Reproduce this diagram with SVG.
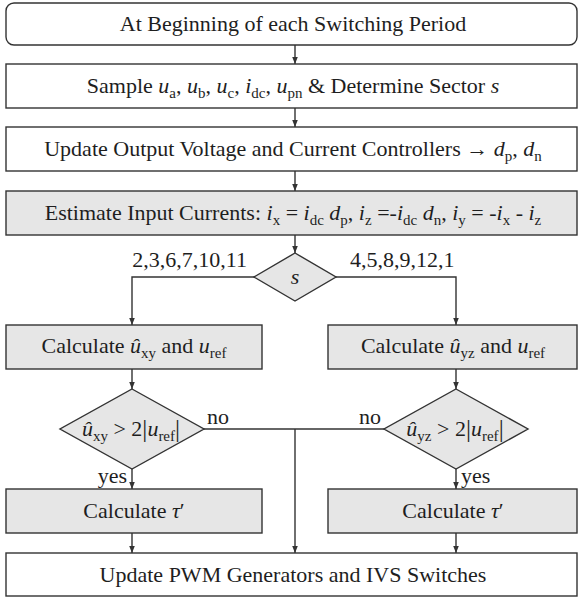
<svg xmlns="http://www.w3.org/2000/svg" width="579" height="598" viewBox="0 0 579 598">
<defs>
<marker id="ah" viewBox="0 0 10 10" refX="10" refY="5" markerWidth="7" markerHeight="7" markerUnits="userSpaceOnUse" orient="auto">
<path d="M0,1 L10,5 L0,9 z" fill="#333"/>
</marker>
<style>
.b{fill:#fff;stroke:#333;stroke-width:1.4}
.g{fill:#e6e6e6;stroke:#333;stroke-width:1.4}
.c{fill:none;stroke:#333;stroke-width:1.4}
.a{marker-end:url(#ah)}
text{font-family:"Liberation Serif","Times New Roman",serif;font-size:22px;fill:#1e1e1e}
.m{text-anchor:middle}
.i{font-style:italic}
.s{font-size:15px;font-style:normal}
.bar{font-size:25px}
</style>
</defs>
<g id="connectors">
<line class="c a" x1="295" y1="45" x2="295" y2="64"/>
<line class="c a" x1="295" y1="108" x2="295" y2="127"/>
<line class="c a" x1="295" y1="171" x2="295" y2="191"/>
<line class="c a" x1="295" y1="235" x2="295" y2="253"/>
<polyline class="c a" points="254,277 132,277 132,325"/>
<polyline class="c a" points="336,277 456,277 456,325"/>
<line class="c a" x1="132" y1="369" x2="132" y2="389"/>
<line class="c a" x1="456" y1="369" x2="456" y2="389"/>
<line class="c" x1="204" y1="429" x2="384" y2="429"/>
<line class="c a" x1="295" y1="429" x2="295" y2="553"/>
<line class="c a" x1="132" y1="469" x2="132" y2="489"/>
<line class="c a" x1="456" y1="469" x2="456" y2="489"/>
<line class="c a" x1="132" y1="533" x2="132" y2="553"/>
<line class="c a" x1="456" y1="533" x2="456" y2="553"/>
<text x="247" y="267" text-anchor="end">2,3,6,7,10,11</text>
<text x="350" y="267">4,5,8,9,12,1</text>
<text x="207" y="424">no</text>
<text x="381" y="424" text-anchor="end">no</text>
<text x="127" y="483" text-anchor="end">yes</text>
<text x="461" y="483">yes</text>
</g>
<g id="start">
<rect class="b" x="6" y="3" width="571" height="42" rx="8"/>
<text class="m" x="293" y="31">At Beginning of each Switching Period</text>
</g>
<g id="sample">
<rect class="b" x="6" y="64" width="571" height="44"/>
<text class="m" x="293" y="93">Sample <tspan class="i">u</tspan><tspan class="s" dy="5">a</tspan><tspan dy="-5">, </tspan><tspan class="i">u</tspan><tspan class="s" dy="5">b</tspan><tspan dy="-5">, </tspan><tspan class="i">u</tspan><tspan class="s" dy="5">c</tspan><tspan dy="-5">, </tspan><tspan class="i">i</tspan><tspan class="s" dy="5">dc</tspan><tspan dy="-5">, </tspan><tspan class="i">u</tspan><tspan class="s" dy="5">pn</tspan><tspan dy="-5"> &amp; Determine Sector </tspan><tspan class="i">s</tspan></text>
</g>
<g id="controllers">
<rect class="b" x="6" y="127" width="571" height="44"/>
<text class="m" x="293" y="156">Update Output Voltage and Current Controllers → <tspan class="i">d</tspan><tspan class="s" dy="5">p</tspan><tspan dy="-5">, </tspan><tspan class="i">d</tspan><tspan class="s" dy="5">n</tspan></text>
</g>
<g id="estimate">
<rect class="g" x="6" y="191" width="571" height="44"/>
<text class="m" x="293" y="220">Estimate Input Currents: <tspan class="i">i</tspan><tspan class="s" dy="5">x</tspan><tspan dy="-5"> = </tspan><tspan class="i">i</tspan><tspan class="s" dy="5">dc</tspan><tspan dy="-5"> </tspan><tspan class="i">d</tspan><tspan class="s" dy="5">p</tspan><tspan dy="-5">, </tspan><tspan class="i">i</tspan><tspan class="s" dy="5">z</tspan><tspan dy="-5"> =-</tspan><tspan class="i">i</tspan><tspan class="s" dy="5">dc</tspan><tspan dy="-5"> </tspan><tspan class="i">d</tspan><tspan class="s" dy="5">n</tspan><tspan dy="-5">, </tspan><tspan class="i">i</tspan><tspan class="s" dy="5">y</tspan><tspan dy="-5"> = -</tspan><tspan class="i">i</tspan><tspan class="s" dy="5">x</tspan><tspan dy="-5"> - </tspan><tspan class="i">i</tspan><tspan class="s" dy="5">z</tspan></text>
</g>
<g id="sector">
<polygon class="g" points="295,253 336,277 295,301 254,277"/>
<text class="m i" x="295" y="284">s</text>
</g>
<g id="calc-xy">
<rect class="g" x="6" y="325" width="256" height="44"/>
<text class="m" x="134" y="353">Calculate <tspan class="i">û</tspan><tspan class="s" dy="5">xy</tspan><tspan dy="-5"> and </tspan><tspan class="i">u</tspan><tspan class="s" dy="5">ref</tspan></text>
</g>
<g id="calc-yz">
<rect class="g" x="328" y="325" width="249" height="44"/>
<text class="m" x="453" y="353">Calculate <tspan class="i">û</tspan><tspan class="s" dy="5">yz</tspan><tspan dy="-5"> and </tspan><tspan class="i">u</tspan><tspan class="s" dy="5">ref</tspan></text>
</g>
<g id="cond-xy">
<polygon class="g" points="132,389 204,429 132,469 60,429"/>
<text class="m" x="131" y="436"><tspan class="i">û</tspan><tspan class="s" dy="5">xy</tspan><tspan dy="-5"> &gt; 2</tspan><tspan class="bar" dy="1">|</tspan><tspan class="i" dy="-1">u</tspan><tspan class="s" dy="5">ref</tspan><tspan class="bar" dy="-4">|</tspan></text>
</g>
<g id="cond-yz">
<polygon class="g" points="456,389 528,429 456,469 384,429"/>
<text class="m" x="455" y="436"><tspan class="i">û</tspan><tspan class="s" dy="5">yz</tspan><tspan dy="-5"> &gt; 2</tspan><tspan class="bar" dy="1">|</tspan><tspan class="i" dy="-1">u</tspan><tspan class="s" dy="5">ref</tspan><tspan class="bar" dy="-4">|</tspan></text>
</g>
<g id="tau-left">
<rect class="g" x="6" y="489" width="256" height="44"/>
<text class="m" x="134" y="518">Calculate  <tspan class="i">τ</tspan>′</text>
</g>
<g id="tau-right">
<rect class="g" x="328" y="489" width="249" height="44"/>
<text class="m" x="453" y="518">Calculate  <tspan class="i">τ</tspan>′</text>
</g>
<g id="update">
<rect class="b" x="6" y="553" width="571" height="43"/>
<text class="m" x="293" y="582">Update PWM Generators and IVS Switches</text>
</g>
</svg>
